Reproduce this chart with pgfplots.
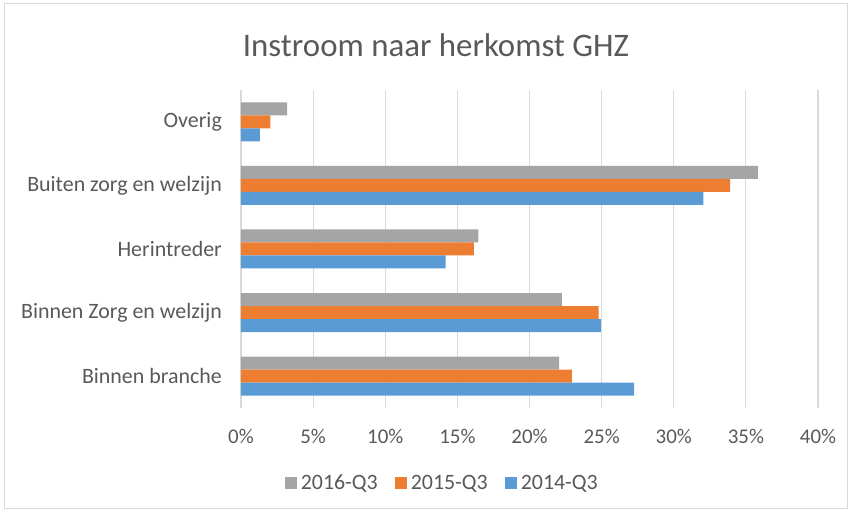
\documentclass[border=0pt]{standalone}
\usepackage{pgfplots}
\pgfplotsset{compat=1.18}
\usepackage{fontspec}
\setmainfont{Carlito}
\definecolor{cgray}{HTML}{A5A5A5}
\definecolor{corange}{HTML}{ED7D31}
\definecolor{cblue}{HTML}{5B9BD5}
\definecolor{cgrid}{HTML}{D9D9D9}
\definecolor{ctext}{HTML}{595959}
\begin{document}
\begin{tikzpicture}
\begin{axis}[
  at={(0,0)}, anchor=south west,
  scale only axis, width=577bp, height=318bp,
  xbar, bar width=13bp,
  xmin=0, xmax=40, ymin=-0.5, ymax=4.5,
  xtick={0,5,...,40},
  xticklabel={\pgfmathprintnumber{\tick}\%},
  ytick={0,1,2,3,4},
  yticklabels={Binnen branche, Binnen Zorg en welzijn, Herintreder, Buiten zorg en welzijn, Overig},
  axis line style={draw=none},
  major tick length=0pt,
  xmajorgrids, grid style={draw=cgrid, line width=1.2bp},
  tick label style={text=ctext, inner sep=0pt},
  yticklabel style={font=\fontsize{22}{26}\selectfont, anchor=east, xshift=-19bp},
  xticklabel style={font=\fontsize{21}{25}\selectfont, anchor=north, yshift=-21bp},
  /pgf/number format/assume math mode=true,
  legend style={at={(0.348,-0.236)}, anchor=center, draw=none, fill=none,
    legend columns=3, font=\fontsize{22}{26}\selectfont, text=ctext,
    nodes={inner sep=1bp},
    /tikz/every odd column/.append style={column sep=3bp},
    /tikz/every even column/.append style={column sep=16bp}},
  legend image code/.code={\fill[#1] (0bp,-6bp) rectangle (12bp,6bp);},
  clip=false,
]
\addplot[draw=none, fill=cgray, bar shift=13bp] coordinates {(22.05,0) (22.24,1) (16.46,2) (35.84,3) (3.2,4)};
\addplot[draw=none, fill=corange, bar shift=0bp] coordinates {(22.94,0) (24.79,1) (16.14,2) (33.9,3) (2.03,4)};
\addplot[draw=none, fill=cblue, bar shift=-13bp] coordinates {(27.26,0) (24.94,1) (14.19,2) (32.06,3) (1.31,4)};
\legend{2016-Q3, 2015-Q3, 2014-Q3}
\end{axis}
\node[text=ctext, font=\fontsize{33}{39}\selectfont] at (195bp,363bp) {Instroom naar herkomst GHZ};
\draw[cgrid, line width=1bp] (-236bp,-100bp) rectangle (606bp,404bp);
\pgfresetboundingbox
\useasboundingbox (-241bp,-104bp) rectangle (611bp,408bp);
\end{tikzpicture}
\end{document}
